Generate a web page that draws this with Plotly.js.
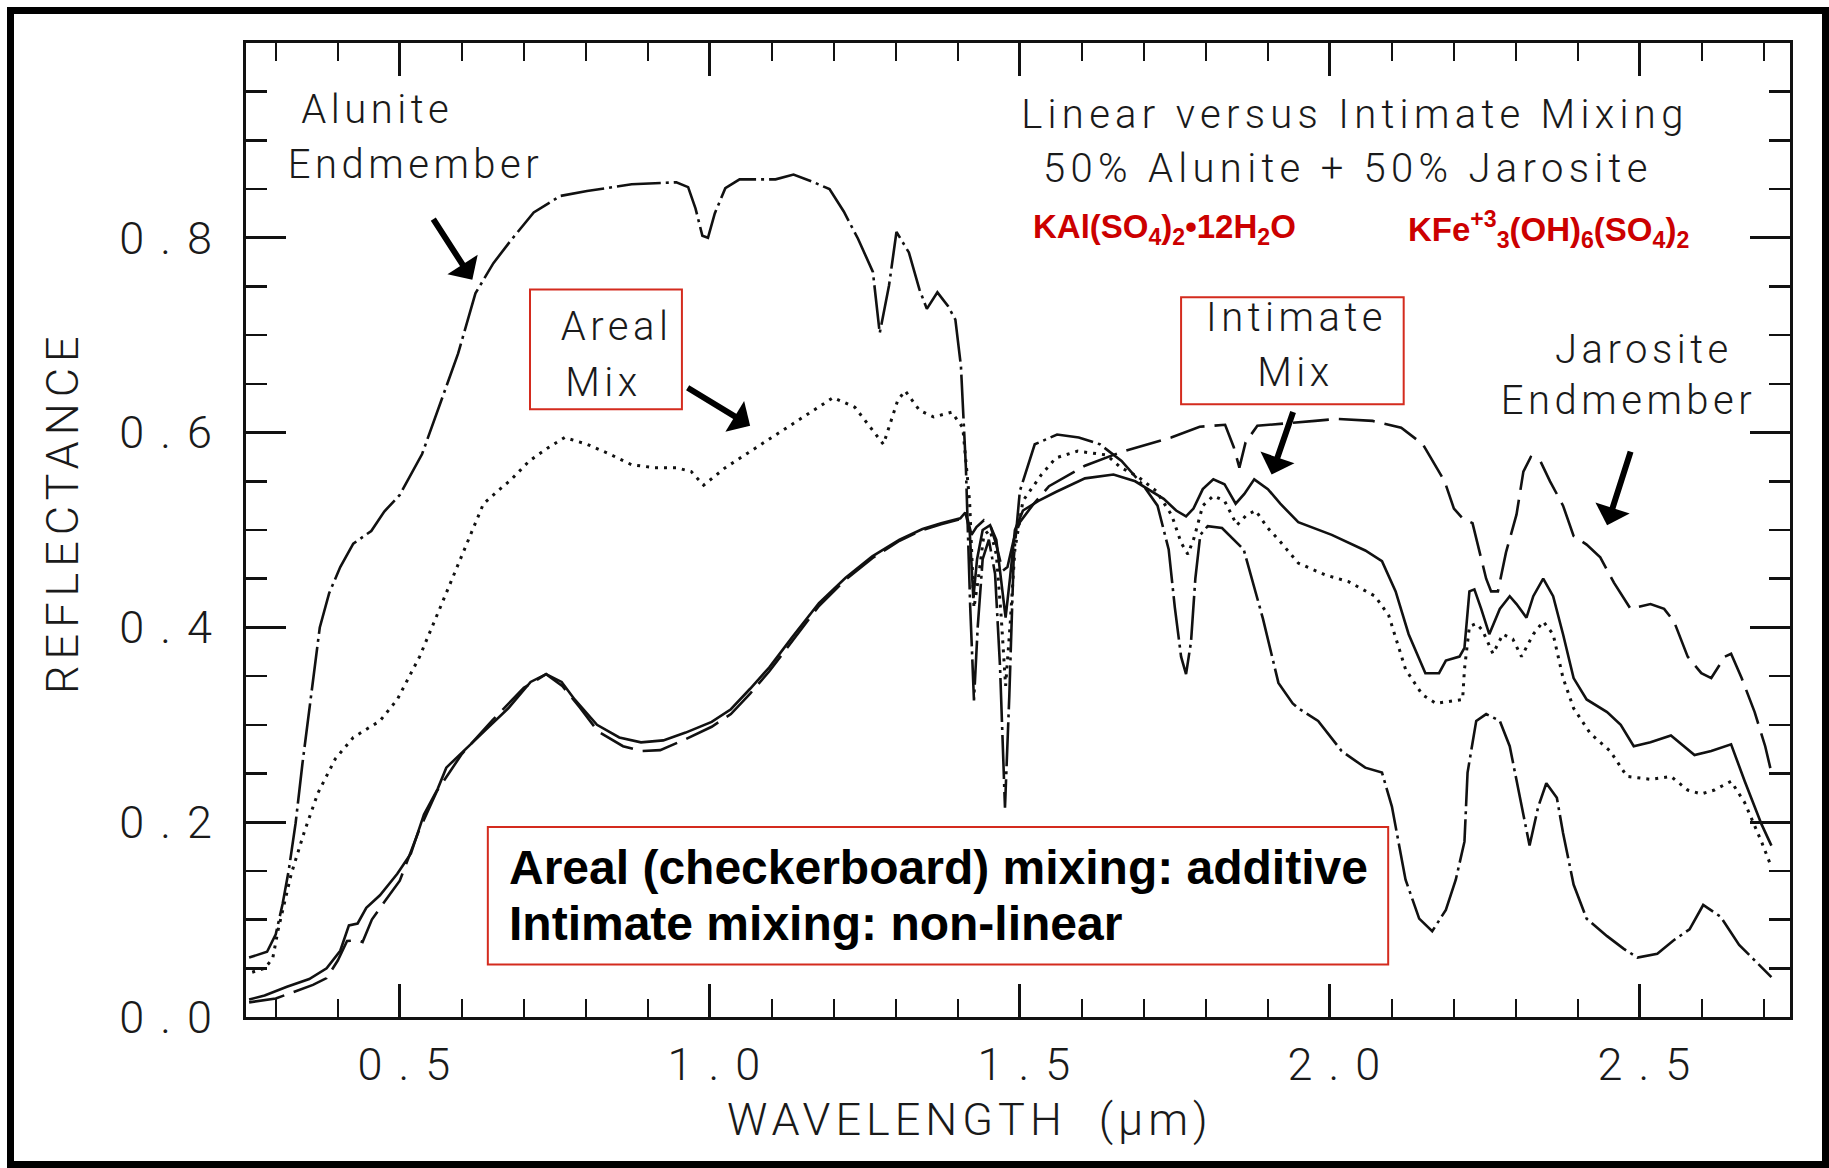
<!DOCTYPE html>
<html><head><meta charset="utf-8">
<script src="https://cdn.plot.ly/plotly-3.0.1.min.js"></script>
<style>
html,body{margin:0;padding:0;background:#fff;overflow:hidden;}
#chart{position:absolute;left:0;top:0;width:1829px;height:1168px;}
#frame{position:absolute;left:7px;top:7px;width:1822px;height:1161px;border:7px solid #000;box-sizing:border-box;pointer-events:none;}
.xtick text,.ytick text{letter-spacing:16px;}
.annotation text{letter-spacing:4.5px;}
.annotation[data-index="4"] text,.annotation[data-index="5"] text{letter-spacing:5.3px;}
.annotation[data-index="10"] text,.annotation[data-index="11"] text,.annotation[data-index="12"] text,.annotation[data-index="13"] text{letter-spacing:normal;}
.annotation[data-index="18"] text{letter-spacing:5px;}
.annotation[data-index="19"] text{letter-spacing:6px;}
</style></head>
<body><div id="chart"></div><div id="frame"></div>
<script>
// ---- Data (wavelength in µm, reflectance) ----
const aluniteX = [0.257,0.286,0.300,0.311,0.321,0.332,0.343,0.354,0.364,0.371,0.386,0.404,0.425,0.454,0.475,0.500,0.536,0.565,0.594,0.622,0.651,0.680,0.716,0.759,0.802,0.874,0.946,0.965,0.977,0.988,0.997,1.008,1.025,1.048,1.106,1.135,1.164,1.193,1.216,1.239,1.263,1.274,1.289,1.301,1.321,1.338,1.350,1.367,1.384,1.396,1.405,1.413,1.420,1.426,1.432,1.440,1.450,1.460,1.468,1.476,1.483,1.490,1.500,1.524,1.560,1.595,1.629,1.664,1.700,1.722,1.740,1.750,1.760,1.768,1.776,1.783,1.791,1.803,1.826,1.861,1.892,1.917,1.940,1.949,1.981,2.019,2.057,2.084,2.100,2.122,2.144,2.165,2.187,2.203,2.217,2.222,2.236,2.252,2.274,2.290,2.306,2.322,2.336,2.349,2.366,2.376,2.393,2.414,2.447,2.474,2.496,2.528,2.555,2.580,2.602,2.630,2.660,2.712];
const aluniteY = [0.061,0.067,0.085,0.116,0.151,0.199,0.260,0.313,0.365,0.400,0.435,0.462,0.486,0.499,0.519,0.536,0.578,0.629,0.681,0.743,0.774,0.798,0.826,0.843,0.848,0.855,0.857,0.852,0.830,0.802,0.800,0.825,0.851,0.860,0.860,0.865,0.858,0.850,0.827,0.799,0.765,0.702,0.751,0.806,0.785,0.747,0.727,0.744,0.730,0.716,0.668,0.564,0.420,0.325,0.400,0.470,0.490,0.455,0.360,0.215,0.330,0.470,0.540,0.588,0.598,0.595,0.588,0.571,0.545,0.525,0.480,0.420,0.370,0.352,0.385,0.450,0.495,0.504,0.502,0.480,0.409,0.343,0.322,0.317,0.304,0.273,0.256,0.251,0.216,0.141,0.101,0.088,0.110,0.141,0.180,0.251,0.304,0.311,0.304,0.278,0.225,0.176,0.216,0.240,0.225,0.189,0.136,0.101,0.083,0.070,0.061,0.065,0.079,0.090,0.115,0.103,0.074,0.041];

const arealX = [0.262,0.282,0.295,0.304,0.325,0.346,0.368,0.396,0.425,0.468,0.496,0.532,0.561,0.589,0.611,0.635,0.658,0.680,0.709,0.738,0.766,0.802,0.838,0.874,0.910,0.946,0.970,0.990,1.025,1.083,1.141,1.199,1.234,1.268,1.280,1.303,1.315,1.338,1.361,1.390,1.408,1.419,1.426,1.433,1.442,1.452,1.462,1.470,1.477,1.484,1.492,1.505,1.535,1.558,1.593,1.640,1.663,1.690,1.720,1.745,1.760,1.771,1.781,1.795,1.812,1.830,1.850,1.865,1.880,1.900,1.920,1.949,1.992,2.030,2.073,2.095,2.122,2.149,2.171,2.192,2.214,2.217,2.225,2.236,2.246,2.263,2.279,2.295,2.309,2.328,2.344,2.360,2.376,2.393,2.420,2.452,2.479,2.517,2.550,2.577,2.599,2.620,2.647,2.669,2.696,2.712];
const arealY = [0.046,0.050,0.060,0.090,0.147,0.190,0.230,0.265,0.287,0.304,0.326,0.370,0.414,0.457,0.492,0.527,0.540,0.552,0.571,0.584,0.595,0.588,0.578,0.567,0.564,0.564,0.560,0.546,0.564,0.588,0.612,0.636,0.626,0.598,0.588,0.633,0.643,0.623,0.616,0.621,0.605,0.529,0.420,0.450,0.495,0.500,0.475,0.410,0.340,0.400,0.480,0.530,0.557,0.574,0.581,0.577,0.564,0.555,0.540,0.515,0.487,0.475,0.492,0.525,0.535,0.530,0.505,0.515,0.520,0.502,0.488,0.466,0.454,0.447,0.432,0.412,0.357,0.331,0.322,0.324,0.326,0.357,0.401,0.404,0.397,0.373,0.393,0.388,0.370,0.393,0.406,0.393,0.348,0.317,0.291,0.273,0.247,0.244,0.247,0.233,0.229,0.233,0.242,0.220,0.180,0.154];

const intimateX = [0.257,0.282,0.318,0.354,0.382,0.404,0.418,0.432,0.446,0.468,0.496,0.518,0.539,0.561,0.575,0.604,0.639,0.675,0.711,0.736,0.761,0.782,0.818,0.854,0.889,0.925,0.961,1.003,1.034,1.065,1.096,1.133,1.176,1.219,1.262,1.306,1.343,1.373,1.404,1.412,1.419,1.425,1.431,1.440,1.452,1.462,1.470,1.477,1.484,1.492,1.505,1.530,1.558,1.605,1.651,1.686,1.732,1.752,1.768,1.780,1.795,1.812,1.830,1.848,1.862,1.878,1.900,1.920,1.949,2.003,2.057,2.084,2.106,2.127,2.154,2.176,2.187,2.209,2.217,2.225,2.233,2.244,2.257,2.274,2.290,2.301,2.317,2.328,2.344,2.360,2.376,2.393,2.414,2.447,2.469,2.490,2.517,2.550,2.588,2.615,2.647,2.669,2.696,2.712];
const intimateY = [0.018,0.022,0.031,0.039,0.050,0.068,0.094,0.096,0.112,0.125,0.147,0.168,0.208,0.234,0.256,0.274,0.295,0.317,0.344,0.352,0.344,0.326,0.300,0.287,0.282,0.284,0.292,0.303,0.316,0.337,0.359,0.390,0.425,0.451,0.473,0.490,0.501,0.507,0.512,0.518,0.500,0.430,0.470,0.500,0.505,0.490,0.450,0.410,0.450,0.500,0.520,0.530,0.539,0.553,0.557,0.550,0.532,0.520,0.514,0.522,0.542,0.552,0.547,0.527,0.537,0.552,0.542,0.527,0.508,0.495,0.479,0.468,0.437,0.393,0.353,0.353,0.366,0.370,0.379,0.437,0.439,0.419,0.393,0.419,0.432,0.424,0.410,0.432,0.450,0.432,0.393,0.348,0.326,0.313,0.300,0.278,0.282,0.289,0.269,0.273,0.280,0.242,0.198,0.176];

const jarositeX = [0.257,0.300,0.330,0.360,0.382,0.400,0.415,0.432,0.440,0.455,0.475,0.500,0.530,0.560,0.600,0.650,0.700,0.736,0.762,0.790,0.820,0.860,0.890,0.920,0.960,1.003,1.034,1.065,1.096,1.133,1.176,1.219,1.262,1.306,1.343,1.373,1.404,1.415,1.422,1.430,1.442,1.452,1.462,1.472,1.480,1.490,1.500,1.520,1.547,1.605,1.663,1.744,1.790,1.831,1.845,1.854,1.864,1.883,1.976,2.011,2.069,2.115,2.150,2.185,2.200,2.214,2.230,2.244,2.252,2.260,2.271,2.284,2.301,2.312,2.324,2.340,2.355,2.376,2.393,2.414,2.436,2.458,2.485,2.517,2.539,2.555,2.577,2.599,2.615,2.637,2.647,2.664,2.685,2.702,2.712];
const jarositeY = [0.015,0.019,0.026,0.033,0.040,0.058,0.078,0.079,0.077,0.100,0.118,0.140,0.190,0.232,0.270,0.305,0.338,0.352,0.340,0.318,0.293,0.278,0.273,0.274,0.285,0.298,0.311,0.332,0.355,0.386,0.422,0.449,0.471,0.489,0.500,0.506,0.511,0.513,0.495,0.503,0.510,0.505,0.485,0.458,0.462,0.490,0.508,0.525,0.545,0.566,0.580,0.595,0.606,0.608,0.585,0.564,0.590,0.607,0.612,0.614,0.612,0.605,0.588,0.550,0.522,0.512,0.507,0.472,0.450,0.437,0.437,0.477,0.516,0.560,0.575,0.570,0.550,0.525,0.494,0.485,0.472,0.446,0.419,0.424,0.419,0.406,0.370,0.353,0.348,0.370,0.373,0.348,0.313,0.278,0.251];

// ---- Axis ticks ----
const xTickVals = [0.5,1.0,1.5,2.0,2.5];
const xTickText = ['0.5','1.0','1.5','2.0','2.5'];
const xMinorVals = [0.3,0.4,0.6,0.7,0.8,0.9,1.1,1.2,1.3,1.4,1.6,1.7,1.8,1.9,2.1,2.2,2.3,2.4,2.6,2.7];
const yTickVals = [0,0.2,0.4,0.6,0.8];
const yTickText = ['0.0','0.2','0.4','0.6','0.8'];
const yMinorVals = [0.05,0.1,0.15,0.25,0.3,0.35,0.45,0.5,0.55,0.65,0.7,0.75,0.85,0.9,0.95];

// ---- Text ----
const xTitle = 'WAVELENGTH\u00a0\u00a0(µm)';
const yTitle = 'REFLECTANCE';
const titleLines = ['Linear versus Intimate Mixing','50% Alunite + 50% Jarosite'];
const formulaTexts = ['KAl(SO<sub>4</sub>)<sub>2</sub>•12H<sub>2</sub>O','KFe<sup>+3</sup><sub>3</sub>(OH)<sub>6</sub>(SO<sub>4</sub>)<sub>2</sub>'];
const noteLines = ['Areal (checkerboard) mixing: additive','Intimate mixing: non-linear'];

const INK = '#111111';
const oldFont = {family:'Roboto, DejaVu Sans, sans-serif', size:40, color:'#1a1a1a', weight:300};
const tickFont = {family:'Roboto, DejaVu Sans, sans-serif', size:45, color:'#1a1a1a', weight:300};
const lineW = 2.6;

const traces = [
  {x:aluniteX, y:aluniteY, mode:'lines', name:'Alunite Endmember', line:{color:INK, width:lineW, dash:'44px,5px,3px,5px'}},
  {x:arealX, y:arealY, mode:'lines', name:'Areal Mix', line:{color:INK, width:3, dash:'3px,6px'}},
  {x:intimateX, y:intimateY, mode:'lines', name:'Intimate Mix', line:{color:INK, width:lineW}},
  {x:jarositeX, y:jarositeY, mode:'lines', name:'Jarosite Endmember', line:{color:INK, width:lineW, dash:'36px,10px'}}
];

function txt(t, x, y, font, extra){
  return Object.assign({text:t, x:x, y:y, xref:'x', yref:'y', showarrow:false, font:font, xanchor:'center', yanchor:'middle'}, extra||{});
}
function arrow(x, y, ax, ay){
  return {text:'', x:x, y:y, xref:'x', yref:'y', showarrow:true, ax:ax, ay:ay, arrowhead:1, arrowsize:1.0, arrowwidth:6, arrowcolor:'#000', standoff:0};
}
const redFont = {family:'Liberation Sans, Arial, sans-serif', size:33, color:'#cc0000', weight:'bold'};
const boldFont = {family:'Liberation Sans, Arial, sans-serif', size:48, color:'#000', weight:'bold'};

const annotations = [
  txt('Alunite', 0.464, 0.932, oldFont),
  txt('Endmember', 0.525, 0.875, oldFont),
  txt('Areal', 0.849, 0.709, oldFont),
  txt('Mix', 0.829, 0.651, oldFont),
  txt(titleLines[0], 2.040, 0.927, oldFont),
  txt(titleLines[1], 2.029, 0.871, oldFont),
  txt('Intimate', 1.946, 0.718, oldFont),
  txt('Mix', 1.945, 0.662, oldFont),
  txt('Jarosite', 2.506, 0.685, oldFont),
  txt('Endmember', 2.481, 0.633, oldFont),
  txt(formulaTexts[0], 1.733, 0.809, redFont),
  txt(formulaTexts[1], 2.352, 0.809, redFont),
  txt(noteLines[0], 0.673, 0.1535, boldFont, {xanchor:'left'}),
  txt(noteLines[1], 0.673, 0.0965, boldFont, {xanchor:'left'}),
  arrow(0.617, 0.757, -40, -62),
  arrow(1.065, 0.607, -64, -39),
  arrow(1.906, 0.557, 22, -64),
  arrow(2.447, 0.505, 24, -75),
  // axis titles (placed as paper annotations so they sit where the reference has them)
  {text:xTitle, xref:'paper', yref:'paper', x:0.4689, y:-0.1057, showarrow:false, font:tickFont, xanchor:'center', yanchor:'middle'},
  {text:yTitle, xref:'paper', yref:'paper', x:-0.1185, y:0.5175, showarrow:false, font:tickFont, textangle:-90, xanchor:'center', yanchor:'middle'}
];

const RED = '#d42b1e';
const shapes = [
  {type:'rect', xref:'x', yref:'y', x0:0.710, x1:0.955, y0:0.624, y1:0.747, line:{color:RED, width:2}},
  {type:'rect', xref:'x', yref:'y', x0:1.760, x1:2.119, y0:0.629, y1:0.739, line:{color:RED, width:2}},
  {type:'rect', xref:'x', yref:'y', x0:0.642, x1:2.094, y0:0.054, y1:0.195, line:{color:RED, width:2}, fillcolor:'#ffffff', layer:'above'}
];

const layout = {
  width:1829, height:1168,
  margin:{l:246, r:39, t:43, b:151, pad:0},
  paper_bgcolor:'#ffffff', plot_bgcolor:'#ffffff',
  showlegend:false,
  xaxis:{
    range:[0.252,2.742], tickmode:'array', tickvals:xTickVals, ticktext:xTickText,
    ticks:'inside', ticklen:33, tickwidth:3, tickcolor:INK,
    showline:true, linewidth:3, linecolor:INK, mirror:'ticks',
    showgrid:false, zeroline:false, tickfont:tickFont, ticklabelstandoff:6, ticklabelshift:12,
    minor:{tickmode:'array', tickvals:xMinorVals, ticks:'inside', ticklen:18, tickwidth:2.5, tickcolor:INK, showgrid:false}
  },
  yaxis:{
    range:[0,1.0], tickmode:'array', tickvals:yTickVals, ticktext:yTickText,
    ticks:'inside', ticklen:40, tickwidth:3, tickcolor:INK,
    showline:true, linewidth:3, linecolor:INK, mirror:'ticks',
    showgrid:false, zeroline:false, tickfont:tickFont, ticklabelstandoff:6,
    minor:{tickmode:'array', tickvals:yMinorVals, ticks:'inside', ticklen:21, tickwidth:2.5, tickcolor:INK, showgrid:false}
  },
  annotations:annotations,
  shapes:shapes
};

Plotly.newPlot('chart', traces, layout, {displayModeBar:false, staticPlot:true});
</script></body></html>
